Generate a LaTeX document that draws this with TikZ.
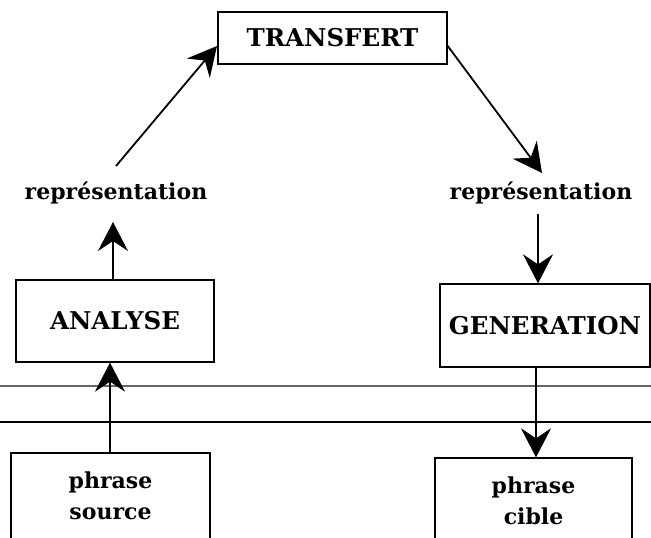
\documentclass[tikz,border=0pt]{standalone}
\usepackage{fontspec}
\setmainfont{DejaVu Serif}
\usetikzlibrary{arrows.meta}
\begin{document}
\begin{tikzpicture}[x=1pt,y=-1pt,
  box/.style={draw,line width=1.3pt,inner sep=0pt,align=center,font=\bfseries\fontsize{22}{31}\selectfont},
  big/.style={font=\bfseries\fontsize{24.5}{29}\selectfont},
  lbl/.style={inner sep=1pt,font=\bfseries\fontsize{22}{27}\selectfont},
  arr/.style={line width=1.8pt,-{Stealth[length=29pt,width=30pt,inset=10pt]}},
  rule/.style={line width=2.6pt}]
\useasboundingbox (0,0) rectangle (651,538);
\node[box,big,minimum width=229pt,minimum height=52pt] (tr) at (332.5,38) {TRANSFERT};
\node[box,big,minimum width=198pt,minimum height=82pt] (an) at (115,321) {ANALYSE};
\node[box,big,minimum width=210pt,minimum height=83pt] (ge) at (545,325.5) {GENERATION};
\node[box,minimum width=199pt,minimum height=86pt] (ps) at (110.5,496) {phrase\\source};
\node[box,minimum width=197pt,minimum height=86pt] (pc) at (533.5,501) {phrase\\cible};
\node[lbl] (rl) at (116,193) {représentation};
\node[lbl] (rr) at (541,193) {représentation};
\coordinate (hl1) at (0,386);
\coordinate (hr1) at (651,386);
\coordinate (hl2) at (0,422);
\coordinate (hr2) at (651,422);
\coordinate (t1) at (217,46);
\coordinate (s1) at (116,166);
\coordinate (s2) at (447,45);
\coordinate (t2) at (542,173);
\draw[rule,black!60] (hl1) -- (hr1);
\draw[rule] (hl2) -- (hr2);
\draw[arr] (s1) -- (t1);
\draw[arr] (an.north -| 113,0) -- (113,222);
\draw[arr] (ps.north -| 110,0) -- (an.south -| 110,0);
\draw[arr] (s2) -- (t2);
\draw[arr] (538,214) -- (ge.north -| 538,0);
\draw[arr] (ge.south -| 536,0) -- (pc.north -| 536,0);
\end{tikzpicture}
\end{document}
